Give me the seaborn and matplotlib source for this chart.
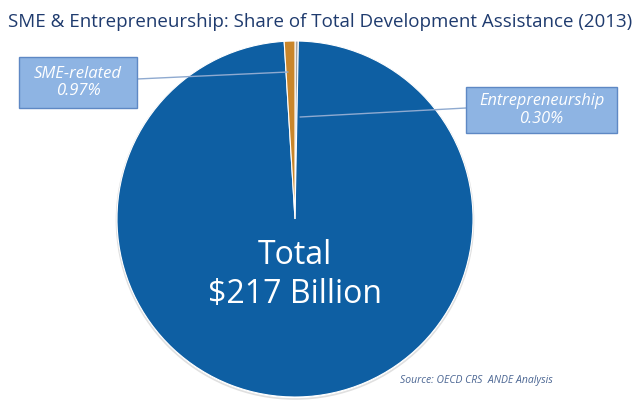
import matplotlib
matplotlib.use('Agg')
import matplotlib.pyplot as plt
import seaborn as sns
from matplotlib.patches import Rectangle, Circle

# Datos
labels = ['Entrepreneurship', 'Total', 'SME-related']
shares = [0.30, 98.73, 0.97]
colors = ['#A5A5A5', '#0E5FA3', '#C9862B']

title = 'SME & Entrepreneurship: Share of Total Development Assistance (2013)'
center_text = 'Total\n$217 Billion'
source = 'Source: OECD CRS  ANDE Analysis'

sns.set_theme(style='white')
plt.rcParams['font.family'] = ['Open Sans', 'DejaVu Sans']

fig = plt.figure(figsize=(6.4, 4.09), dpi=100)
ax = fig.add_axes([0, 0, 1, 1])
H = 409
cx, cy, r = 295, H - 219, 178

# sombra suave del borde
ax.add_patch(Circle((cx, cy - 1.5), r + 0.5, facecolor='none', edgecolor='#E0E0E0', lw=1.2, zorder=0))
ax.pie(shares, colors=colors, startangle=90, counterclock=False,
       center=(cx, cy), radius=r,
       wedgeprops=dict(edgecolor='white', linewidth=0.8))
ax.set_xlim(0, 640)
ax.set_ylim(0, H)
ax.set_aspect('equal')
ax.axis('off')

# Cajas de etiquetas
def label_box(x0, y0, x1, y1, txt, fs, line_from, line_to):
    ax.plot([line_from[0], line_to[0]], [H - line_from[1], H - line_to[1]],
            color='#8FAAD0', lw=1.0, zorder=3)
    ax.add_patch(Rectangle((x0, H - y1), x1 - x0, y1 - y0, facecolor='#8EB4E3',
                           edgecolor='#5E88C4', lw=1, zorder=4))
    ax.text((x0 + x1) / 2, H - (y0 + y1) / 2, txt, ha='center', va='center',
            color='white', fontsize=fs, style='italic', linespacing=1.1, zorder=5)

label_box(19, 57, 137, 108, 'SME-related\n0.97%', 12, (137, 79), (288, 72))
label_box(466, 87, 617, 133, 'Entrepreneurship\n0.30%', 11.8, (466, 108), (300, 117))

ax.text(cx, H - 275, center_text, ha='center', va='center', color='white',
        fontsize=23, linespacing=1.25)

fig.text(0.5, 1 - 22 / H, title, ha='center', va='center', color='#1F3B6E', fontsize=13.5)
fig.text(400 / 640, 1 - 381 / H, source, ha='left', va='center', color='#4A6592',
         fontsize=7.5, style='italic')

fig.savefig('out.png', dpi=100)
